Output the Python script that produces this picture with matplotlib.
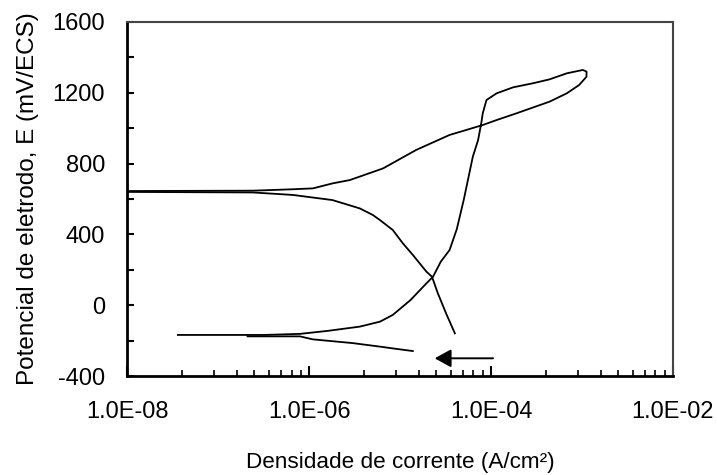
import math
import matplotlib
matplotlib.use('Agg')
import matplotlib.pyplot as plt
from matplotlib.ticker import FixedLocator, MultipleLocator, FuncFormatter

plt.rcParams['font.family'] = ['Liberation Sans', 'DejaVu Sans']
plt.rcParams['axes.unicode_minus'] = False

# anodic scan + reverse scan (loop)
i_loop = [3.6e-8, 1.0e-7, 3.2e-7, 7.9e-7, 1.6e-6, 3.6e-6, 6.0e-6, 8.3e-6, 1.3e-5,
          1.95e-5, 2.3e-5, 2.8e-5, 3.5e-5, 4.2e-5, 5.0e-5, 6.3e-5, 7.2e-5, 7.8e-5,
          8.1e-5, 8.9e-5, 1.15e-4, 1.75e-4, 2.9e-4, 4.4e-4, 6.8e-4, 1.02e-3, 1.12e-3,
          1.12e-3, 9.3e-4, 6.8e-4, 4.4e-4, 1.9e-4, 1.15e-4, 8.1e-5, 4.6e-5, 3.5e-5,
          1.5e-5, 6.5e-6, 2.8e-6, 1.8e-6, 1.1e-6, 6.6e-7, 2.4e-7, 1.0e-8]
e_loop = [-168, -168, -168, -162, -145, -121, -93, -55, 29,
          124, 161, 246, 312, 430, 594, 839, 933, 1028,
          1084, 1159, 1197, 1231, 1254, 1276, 1310, 1329, 1320,
          1291, 1244, 1197, 1150, 1084, 1046, 1018, 980, 962,
          877, 773, 707, 688, 660, 655, 647, 645]

# descending branch
i_desc = [1.0e-8, 2.4e-7, 6.6e-7, 1.8e-6, 3.6e-6, 5.0e-6, 6.0e-6, 8.3e-6,
          1.07e-5, 1.38e-5, 1.95e-5, 2.24e-5, 2.6e-5, 3.2e-5, 4.0e-5]
e_desc = [640, 637, 623, 594, 547, 510, 481, 425,
          350, 284, 189, 161, 67, -46, -159]

# short cathodic branch
i_cat = [2.1e-7, 7.9e-7, 1.1e-6, 3.0e-6, 6.0e-6, 8.3e-6, 1.38e-5]
e_cat = [-176, -176, -193, -214, -234, -244, -259]

# arrow
arrow_i = [1.05e-4, 2.4e-5]
arrow_e = -300

xticks = [1e-8, 1e-6, 1e-4, 1e-2]

fig = plt.figure(figsize=(7.17, 4.75), dpi=100)
ax = fig.add_axes([0.1775, 0.2084, 0.7611, 0.7453])

ax.plot(i_loop, e_loop, color='black', lw=1.3)
ax.plot(i_desc, e_desc, color='black', lw=1.3)
ax.plot(i_cat, e_cat, color='black', lw=1.3)
ax.annotate('', xy=(arrow_i[1], arrow_e), xytext=(arrow_i[0], arrow_e),
            arrowprops=dict(arrowstyle='-|>,head_length=1.0,head_width=0.55',
                            color='black', lw=1.4, shrinkA=0, shrinkB=0,
                            mutation_scale=10))

ax.set_xscale('log')
ax.set_xlim(1e-8, 1e-2)
ax.set_ylim(-400, 1600)
ax.xaxis.set_major_locator(FixedLocator(xticks))
minor = [10.0**e * k * k for e in (-8, -6, -4) for k in range(2, 10)]
ax.xaxis.set_minor_locator(FixedLocator(minor))
ax.xaxis.set_major_formatter(FuncFormatter(lambda v, p: '1.0E-%02d' % round(-math.log10(v))))
ax.xaxis.set_minor_formatter(FuncFormatter(lambda v, p: ''))
ax.yaxis.set_major_locator(MultipleLocator(400))
ax.yaxis.set_minor_locator(MultipleLocator(200))

ax.tick_params(axis='both', which='both', direction='in', colors='black')
ax.tick_params(axis='x', which='major', length=7, width=1.5, pad=18, labelsize=17)
ax.tick_params(axis='x', which='minor', length=4, width=1.2)
ax.tick_params(axis='y', which='both', length=5, width=1.5, pad=16, labelsize=17)

for s in ['left', 'bottom']:
    ax.spines[s].set_linewidth(2)
for s in ['top', 'right']:
    ax.spines[s].set_linewidth(1.5)
    ax.spines[s].set_color('#444444')

ax.set_xlabel('Densidade de corrente (A/cm²)', fontsize=16.2, labelpad=21)
ax.set_ylabel('Potencial de eletrodo, E (mV/ECS)', fontsize=17.5, labelpad=10)

fig.savefig('out.png', dpi=100)
